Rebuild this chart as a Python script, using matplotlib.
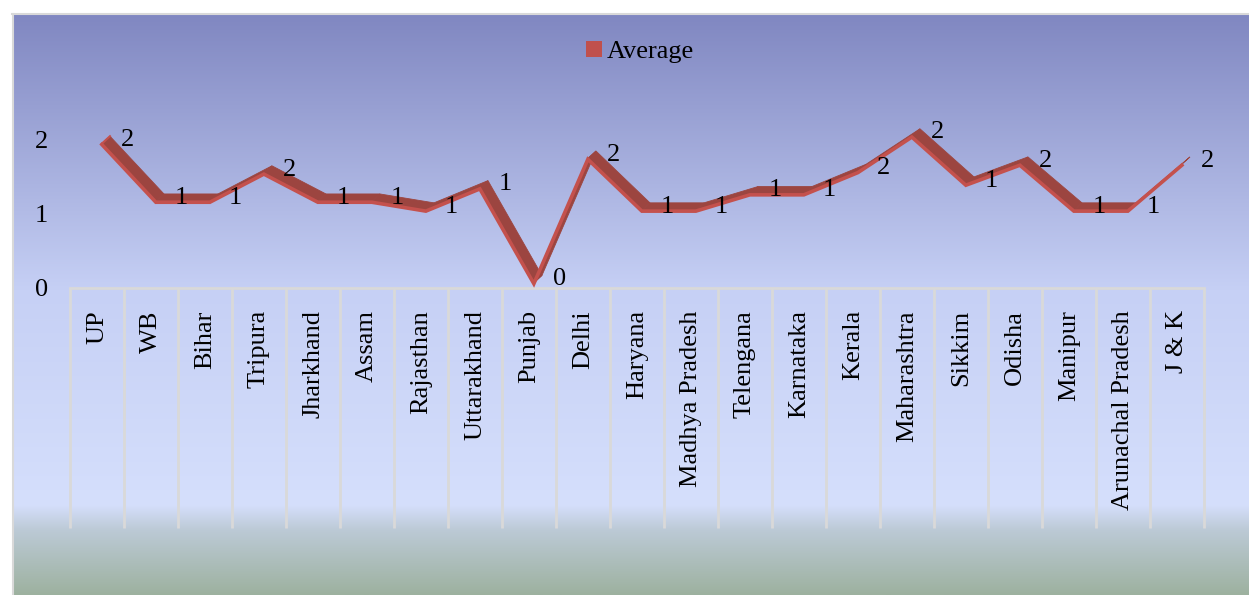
import matplotlib.pyplot as plt
import numpy as np
from matplotlib.patches import Polygon, Patch
from matplotlib.lines import Line2D

states = ["UP", "WB", "Bihar", "Tripura", "Jharkhand", "Assam", "Rajasthan",
          "Uttarakhand", "Punjab", "Delhi", "Haryana", "Madhya Pradesh",
          "Telengana", "Karnataka", "Kerala", "Maharashtra", "Sikkim",
          "Odisha", "Manipur", "Arunachal Pradesh", "J & K"]
average = [2.0, 1.22, 1.22, 1.6, 1.22, 1.22, 1.1, 1.4, 0.12, 1.8, 1.1, 1.1,
           1.32, 1.32, 1.62, 2.1, 1.45, 1.72, 1.1, 1.1, 1.72]
yticks = [0, 1, 2]

plt.rcParams['font.family'] = ['Liberation Serif', 'DejaVu Serif']
plt.rcParams['font.size'] = 19

W, H = 1249, 595
fig = plt.figure(figsize=(W / 100, H / 100), dpi=100)
fig.patch.set_facecolor('white')

# background gradient (purple-blue top, pale blue middle, grey-green floor)
stops_px = [14, 290, 505, 530, 595]
stops_rgb = np.array([[0x80, 0x87, 0xc1], [0xc6, 0xd0, 0xf5], [0xd5, 0xdf, 0xfc],
                      [0xbc, 0xca, 0xd6], [0x9d, 0xb1, 0x9f]]) / 255.0
rows = np.arange(14, 596)
grad = np.stack([np.interp(rows, stops_px, stops_rgb[:, c]) for c in range(3)], axis=1)
grad = grad[:, None, :]
bg = fig.add_axes([12 / W, 0, 1 - 12 / W, (H - 14) / H])
bg.imshow(grad, aspect='auto', interpolation='bilinear')
bg.axis('off')
fig.add_artist(Line2D([12 / W, 1], [1 - 13.5 / H, 1 - 13.5 / H], color='#d9d9d9', lw=1.5))
fig.add_artist(Line2D([12.5 / W, 12.5 / W], [0, 1 - 13.5 / H], color='#d9d9d9', lw=1.5))

ax = fig.add_axes([70 / W, (H - 288) / H, 1134 / W, (288 - 14) / H])
ax.set_facecolor('none')
ax.set_xlim(-0.5, len(states) - 0.5)
ax.set_ylim(0, 3.7)

# 3-D style ribbon: dark top face plus lighter front edge
x = np.arange(len(states))
v = np.array(average)
fx, fy = x + 0.09, v - 0.05
bx, by = x + 0.24, v + 0.05
dark = '#9c4540'
light = '#c4514d'
for i in range(len(x) - 1):
    quad = [(fx[i], fy[i]), (fx[i + 1], fy[i + 1]), (bx[i + 1], by[i + 1]), (bx[i], by[i])]
    ax.add_patch(Polygon(quad, closed=True, fc=dark, ec=dark, lw=0.6, zorder=3))
ax.plot(fx, fy - 0.012, color=light, lw=2.6, solid_joinstyle='miter', zorder=4)
ax.plot([fx[0], bx[0]], [fy[0], by[0]], color=light, lw=1.5, zorder=4)

for xi, val in zip(x, average):
    ax.annotate(f"{val:.0f}", (xi, val), xytext=(22, 0), textcoords='offset points',
                ha='center', va='center', fontsize=19, zorder=5)

for s in ['top', 'right', 'left']:
    ax.spines[s].set_visible(False)
ax.spines['bottom'].set_color('#d9d9d9')
ax.spines['bottom'].set_linewidth(2)

ax.set_yticks(yticks)
ax.set_yticklabels([str(t) for t in yticks])
ax.tick_params(axis='y', length=0, pad=16)

ax.set_xticks(np.arange(-0.5, len(states)), labels=[])
ax.tick_params(axis='x', which='major', length=173, width=2, color='#d9d9d9', direction='out')
ax.set_xticks(x, labels=states, minor=True)
ax.tick_params(axis='x', which='minor', length=0, pad=16, labelrotation=90)

handle = Patch(facecolor='#c0504d', edgecolor='none', label='Average')
fig.legend(handles=[handle], loc='center', bbox_to_anchor=(640 / W, 1 - 52 / H),
           frameon=False, handlelength=0.6, handleheight=0.6, handletextpad=0.2,
           fontsize=19)

fig.savefig('out.png', dpi=100)
